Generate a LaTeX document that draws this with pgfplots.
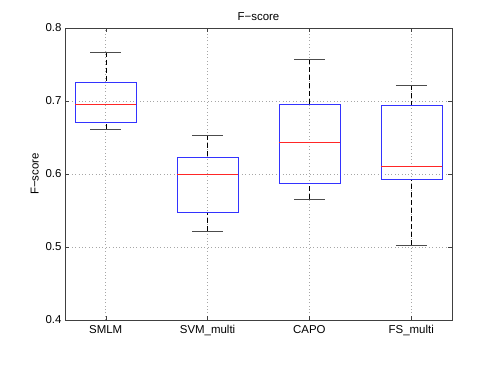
\documentclass[border=0pt]{standalone}
\usepackage{pgfplots}
\pgfplotsset{compat=1.18}
\usepgfplotslibrary{statistics}
\usepackage{fontspec}
\setmainfont{Liberation Sans}
\pgfplotsset{
  boxplot/draw/lower whisker/.code={%
    \draw[black, dash pattern=on 5bp off 3bp]
      (boxplot box cs:\pgfplotsboxplotvalue{lower whisker},0.5) --
      (boxplot box cs:\pgfplotsboxplotvalue{lower quartile},0.5);
    \draw[black!70]
      (boxplot whisker cs:\pgfplotsboxplotvalue{lower whisker},0) --
      (boxplot whisker cs:\pgfplotsboxplotvalue{lower whisker},1);
  },
  boxplot/draw/upper whisker/.code={%
    \draw[black, dash pattern=on 5bp off 3bp]
      (boxplot box cs:\pgfplotsboxplotvalue{upper whisker},0.5) --
      (boxplot box cs:\pgfplotsboxplotvalue{upper quartile},0.5);
    \draw[black!70]
      (boxplot whisker cs:\pgfplotsboxplotvalue{upper whisker},0) --
      (boxplot whisker cs:\pgfplotsboxplotvalue{upper whisker},1);
  },
}
\begin{document}
\begin{tikzpicture}
\path[use as bounding box] (0,0) rectangle (498bp,375bp);
\begin{axis}[
  at={(65bp,55bp)}, anchor=south west,
  scale only axis, width=387bp, height=292bp,
  xmin=0.6, xmax=4.4, ymin=0.4, ymax=0.8,
  xtick={1,2,3,4},
  xticklabels={SMLM,SVM\_multi,CAPO,FS\_multi},
  ytick={0.4,0.5,0.6,0.7,0.8},
  yticklabel style={/pgf/number format/.cd, fixed, precision=1, fixed zerofill},
  xticklabel style={yshift=-2bp},
  /pgf/number format/assume math mode=true,
  tick align=inside, major tick length=4bp,
  tick style={black!75},
  axis line style={black!75},
  grid=major, grid style={gray!70, line width=0.5pt, dash pattern=on 0.8bp off 2.6bp},
  title={F−score}, ylabel={F−score},
  title style={font=\fontsize{11.5}{13}\selectfont, yshift=-2bp},
  label style={font=\fontsize{11.5}{13}\selectfont},
  tick label style={font=\fontsize{11.5}{13}\selectfont},
  boxplot/draw direction=y,
  boxplot/box extend=0.6,
  boxplot/whisker extend=0.3,
  boxplot/every box/.style={draw=blue!80},
  boxplot/every median/.style={draw=red!85},
]
% SMLM
\addplot[blue, boxplot prepared={draw position=1,
  lower whisker=0.661, lower quartile=0.671, median=0.696,
  upper quartile=0.726, upper whisker=0.7675}] coordinates {};
% SVM_multi
\addplot[blue, boxplot prepared={draw position=2,
  lower whisker=0.522, lower quartile=0.548, median=0.600,
  upper quartile=0.623, upper whisker=0.6535}] coordinates {};
% CAPO
\addplot[blue, boxplot prepared={draw position=3,
  lower whisker=0.566, lower quartile=0.587, median=0.643,
  upper quartile=0.695, upper whisker=0.7575}] coordinates {};
% FS_multi
\addplot[blue, boxplot prepared={draw position=4,
  lower whisker=0.503, lower quartile=0.593, median=0.611,
  upper quartile=0.694, upper whisker=0.722}] coordinates {};
\end{axis}
\end{tikzpicture}
\end{document}
